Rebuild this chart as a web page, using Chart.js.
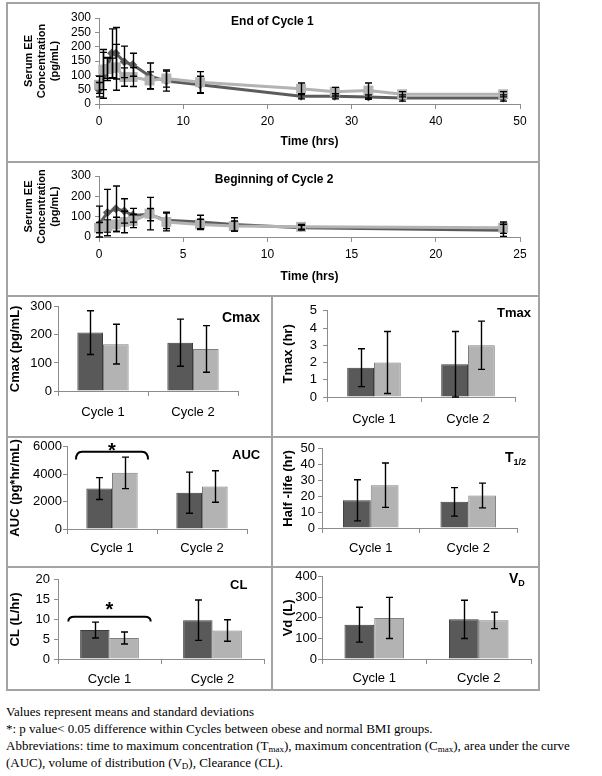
<!DOCTYPE html>
<html><head><meta charset="utf-8">
<script src="https://cdn.jsdelivr.net/npm/chart.js@4.4.1/dist/chart.umd.min.js"></script>
<style>
html,body{margin:0;padding:0;background:#fff;}
body{width:602px;height:776px;position:relative;overflow:hidden;font-family:"Liberation Sans",Arial,sans-serif;}
canvas{position:absolute;}
.ln{position:absolute;background:#a3a3a3;}
.lab{position:absolute;font-weight:bold;font-size:13px;line-height:16px;white-space:nowrap;color:#000;}
.lab sub{font-size:9px;vertical-align:-3px;line-height:0;}
.note{position:absolute;left:6px;top:703px;width:596px;font-family:"Liberation Serif","Times New Roman",serif;font-size:13px;line-height:17px;color:#000;}
.note sub{font-size:9px;vertical-align:-2px;line-height:0;}
</style></head>
<body>
<div class="ln" style="left:6px;top:2px;width:534px;height:2px"></div>
<div class="ln" style="left:6px;top:161px;width:534px;height:2px"></div>
<div class="ln" style="left:6px;top:295px;width:534px;height:2px"></div>
<div class="ln" style="left:6px;top:436px;width:534px;height:2px"></div>
<div class="ln" style="left:6px;top:566px;width:534px;height:2px"></div>
<div class="ln" style="left:6px;top:689px;width:534px;height:2px"></div>
<div class="ln" style="left:6px;top:2px;width:2px;height:689px"></div>
<div class="ln" style="left:538px;top:2px;width:2px;height:689px"></div>
<div class="ln" style="left:271px;top:295px;width:2px;height:396px"></div>

<canvas id="c1" width="530" height="157" style="left:8px;top:4px"></canvas>
<canvas id="c2" width="530" height="132" style="left:8px;top:163px"></canvas>
<canvas id="cmax" width="263" height="139" style="left:8px;top:297px"></canvas>
<canvas id="tmax" width="265" height="139" style="left:273px;top:297px"></canvas>
<canvas id="auc" width="263" height="128" style="left:8px;top:438px"></canvas>
<canvas id="thalf" width="265" height="128" style="left:273px;top:438px"></canvas>
<canvas id="cl" width="263" height="121" style="left:8px;top:568px"></canvas>
<canvas id="vd" width="265" height="121" style="left:273px;top:568px"></canvas>

<div class="lab" style="left:222px;top:309px;font-size:14px">Cmax</div>
<div class="lab" style="left:497px;top:305px">Tmax</div>
<div class="lab" style="left:232px;top:447px">AUC</div>
<div class="lab" style="left:505px;top:449px;font-size:14px">T<sub>1/2</sub></div>
<div class="lab" style="left:230px;top:577px">CL</div>
<div class="lab" style="left:509px;top:570px;font-size:14px">V<sub>D</sub></div>

<div class="note">Values represent means and standard deviations<br>*: p value&lt; 0.05 difference within Cycles between obese and normal BMI groups.<br>Abbreviations: time to maximum concentration (T<sub>max</sub>), maximum concentration (C<sub>max</sub>), area under the curve (AUC), volume of distribution (V<sub>D</sub>), Clearance (CL).</div>

<script>
// ---------- data ----------
const times1 = [0, 0.5, 1, 1.5, 2, 3, 4, 6, 8, 12, 24, 28, 32, 36, 48];
const dark1 = [50, 100, 125, 177, 177, 147, 137, 98, 80, 67, 27, 27, 24, 21, 21];
const darkSd1 = [25, 80, 35, 85, 90, 55, 40, 45, 35, 30, 9, 9, 8, 11, 11];
const light1 = [67, 120, 122, 125, 128, 94, 94, 82, 89, 76, 53, 43, 47, 34, 34];
const lightSd1 = [30, 70, 40, 35, 80, 32, 33, 30, 30, 37, 20, 15, 26, 9, 9];

const times2 = [0, 0.5, 1, 1.5, 2, 3, 4, 6, 8, 12, 24];
const dark2 = [62, 120, 139, 128, 107, 110, 82, 74, 62, 46, 33];
const darkSd2 = [90, 114, 112, 60, 34, 30, 40, 33, 33, 12, 30];
const light2 = [46, 54, 62, 74, 79, 115, 74, 62, 54, 50, 46];
const lightSd2 = [25, 30, 35, 53, 33, 80, 44, 25, 25, 12, 28];

const cycles = ['Cycle 1', 'Cycle 2'];
const cmaxDark = [208, 172], cmaxDarkSd = [78, 84];
const cmaxLight = [167, 150], cmaxLightSd = [71, 83];
const tmaxDark = [1.7, 1.9], tmaxDarkSd = [1.1, 1.9];
const tmaxLight = [2.0, 3.0], tmaxLightSd = [1.8, 1.4];
const aucDark = [2950, 2650], aucDarkSd = [800, 1500];
const aucLight = [4100, 3100], aucLightSd = [1150, 1150];
const thalfDark = [17.5, 16.5], thalfDarkSd = [13, 9];
const thalfLight = [27, 20.5], thalfLightSd = [14, 7.8];
const clDark = [7.3, 9.8], clDarkSd = [2.0, 5.1];
const clLight = [5.3, 7.2], clLightSd = [1.5, 2.7];
const vdDark = [167, 193], vdDarkSd = [85, 93];
const vdLight = [200, 188], vdLightSd = [100, 40];

// significance brackets (category index, bracket level, end level, star level) in data units
const aucSig = [0, 5640, 5070, 6000];
const clSig = [0, 10.7, 9.5, 13.6];

// ---------- plugins ----------
const AX = '#8c8c8c';
Chart.defaults.font.family = '"Liberation Sans", Arial, sans-serif';
Chart.defaults.color = '#000';
const plain = v => String(v);

const errorBars = {
  id: 'errorBars',
  afterDatasetsDraw(chart) {
    const ctx = chart.ctx, ys = chart.scales.y;
    ctx.save();
    ctx.strokeStyle = '#000';
    ctx.lineWidth = 1.4;
    chart.data.datasets.forEach((ds, i) => {
      if (!ds.sd) return;
      const meta = chart.getDatasetMeta(i);
      meta.data.forEach((el, j) => {
        const raw = ds.data[j];
        const v = typeof raw === 'object' ? raw.y : raw;
        const x = Math.round(el.x) + 0.5;
        const t = ys.getPixelForValue(v + ds.sd[j]);
        const b = ys.getPixelForValue(Math.max(0, v - ds.sd[j]));
        const c = 3.5;
        ctx.beginPath();
        ctx.moveTo(x, t); ctx.lineTo(x, b);
        ctx.moveTo(x - c, t); ctx.lineTo(x + c, t);
        ctx.moveTo(x - c, b); ctx.lineTo(x + c, b);
        ctx.stroke();
      });
    });
    ctx.restore();
  }
};

const sigBracket = {
  id: 'sigBracket',
  afterDatasetsDraw(chart, args, o) {
    if (!o || !o.sig) return;
    const [cat, level, end, star] = o.sig;
    const xs = chart.scales.x, ys = chart.scales.y, ctx = chart.ctx;
    const cx = xs.getPixelForValue(cat);
    const half = (xs.getPixelForValue(1) - xs.getPixelForValue(0)) * 0.40;
    const y = ys.getPixelForValue(level), yb = ys.getPixelForValue(end);
    const x1 = cx - half, x2 = cx + half, r = 6;
    ctx.save();
    ctx.strokeStyle = '#000'; ctx.lineWidth = 2;
    ctx.beginPath();
    ctx.moveTo(x1, yb);
    ctx.quadraticCurveTo(x1, y, x1 + r, y);
    ctx.lineTo(x2 - r, y);
    ctx.quadraticCurveTo(x2, y, x2, yb);
    ctx.stroke();
    ctx.fillStyle = '#000';
    ctx.font = 'bold 20px "Liberation Sans", Arial, sans-serif';
    ctx.textAlign = 'center'; ctx.textBaseline = 'middle';
    ctx.fillText('*', cx, ys.getPixelForValue(star) + 5);
    ctx.restore();
  }
};

Chart.register(errorBars, sigBracket);

// ---------- line charts ----------
function lineChart(id, times, dark, darkSd, light, lightSd, g) {
  return new Chart(document.getElementById(id), {
    type: 'line',
    data: {
      datasets: [
        { data: times.map((t, i) => ({ x: t, y: dark[i] })), sd: darkSd, borderColor: '#5c5c5c', backgroundColor: '#5c5c5c',
          borderWidth: 3, pointStyle: 'rectRot', pointRadius: 4.5, pointBorderWidth: 0, order: 2, clip: false },
        { data: times.map((t, i) => ({ x: t, y: light[i] })), sd: lightSd, borderColor: '#b3b3b3', backgroundColor: '#b3b3b3',
          borderWidth: 3, pointStyle: 'rect', pointRadius: 7, pointBorderWidth: 0, order: 1, clip: false }
      ]
    },
    options: {
      responsive: false, animation: false, devicePixelRatio: 1,
      layout: { padding: { top: g.padTop, right: g.padRight, left: 0, bottom: 0 } },
      plugins: {
        legend: { display: false }, tooltip: { enabled: false },
        title: { display: false }
      },
      scales: {
        x: {
          type: 'linear', min: 0, max: g.xMax,
          ticks: { stepSize: g.xStep, autoSkip: false, maxRotation: 0, padding: 5, font: { size: 12 }, color: '#000', callback: plain },
          grid: { drawOnChartArea: false, tickLength: 5, color: AX },
          border: { color: AX },
          title: { display: true, text: 'Time (hrs)', font: { size: 12, weight: 'bold' }, padding: { top: 0, bottom: g.titlePad } },
          afterFit(s) { s.height = g.xH; }
        },
        y: {
          min: 0, max: 300,
          ticks: { stepSize: g.yStep, autoSkip: false, padding: 4, font: { size: 12 }, color: '#000', callback: plain },
          grid: { drawOnChartArea: false, tickLength: 4, color: AX },
          border: { color: AX },
          title: { display: true, text: ['Serum EE', 'Concentration', '(pg/mL)'], font: { size: 11, weight: 'bold', lineHeight: 1.2 }, padding: { top: 14.4, bottom: 0 } },
          afterFit(s) { s.width = g.yW; }
        }
      }
    },
    plugins: [{
      id: 'panelTitle',
      afterDraw(chart) {
        const ctx = chart.ctx, xs = chart.scales.x;
        ctx.save();
        ctx.font = 'bold 12px "Liberation Sans", Arial, sans-serif';
        ctx.fillStyle = '#000'; ctx.textAlign = 'center'; ctx.textBaseline = 'middle';
        ctx.fillText(g.title, xs.getPixelForValue(g.titleAt), g.titleY);
        ctx.restore();
      }
    }]
  });
}

lineChart('c1', times1, dark1, darkSd1, light1, lightSd1,
  { padTop: 14, padRight: 18, xH: 57, yW: 91, titlePad: 11.8, xMax: 50, xStep: 10, yStep: 50, title: 'End of Cycle 1', titleAt: 20.6, titleY: 18 });
lineChart('c2', times2, dark2, darkSd2, light2, lightSd2,
  { padTop: 13, padRight: 18, xH: 58, yW: 91, titlePad: 10.8, xMax: 25, xStep: 5, yStep: 100, title: 'Beginning of Cycle 2', titleAt: 10.4, titleY: 17 });

// ---------- bar charts ----------
function barChart(id, dark, darkSd, light, lightSd, g) {
  return new Chart(document.getElementById(id), {
    type: 'bar',
    data: {
      labels: cycles,
      datasets: [
        { data: dark, sd: darkSd, backgroundColor: '#595959', borderColor: '#3c3c3c', borderWidth: 1 },
        { data: light, sd: lightSd, backgroundColor: '#b3b3b3', borderColor: '#808080', borderWidth: 1 }
      ]
    },
    options: {
      responsive: false, animation: false, devicePixelRatio: 1,
      categoryPercentage: 0.57, barPercentage: 1.0,
      layout: { padding: { top: g.padTop, right: g.padRight, left: 0, bottom: 0 } },
      plugins: { legend: { display: false }, tooltip: { enabled: false }, sigBracket: { sig: g.sig } },
      scales: {
        x: {
          ticks: { padding: g.catPad, autoSkip: false, maxRotation: 0, font: { size: 13 }, color: '#000' },
          grid: { offset: true, drawOnChartArea: false, tickLength: 5, color: AX },
          border: { color: AX },
          afterFit(s) { s.height = g.xH; }
        },
        y: {
          min: 0, max: g.yMax,
          ticks: { stepSize: g.yStep, autoSkip: false, padding: g.tickPad, font: { size: 13 }, color: '#000', callback: plain },
          grid: { drawOnChartArea: false, tickLength: 4, color: AX },
          border: { color: AX },
          title: { display: true, text: g.yTitle, font: { size: 13, weight: 'bold', lineHeight: 1.2 }, padding: { top: g.titleTop, bottom: 0 } },
          afterFit(s) { s.width = g.yW; }
        }
      }
    }
  });
}

barChart('cmax', cmaxDark, cmaxDarkSd, cmaxLight, cmaxLightSd,
  { padTop: 8, padRight: 33, xH: 45, yW: 50, yMax: 300, yStep: 100, yTitle: 'Cmax (pg/mL)', titleTop: 0, tickPad: 2, catPad: 9 });
barChart('tmax', tmaxDark, tmaxDarkSd, tmaxLight, tmaxLightSd,
  { padTop: 10, padRight: 23, xH: 39, yW: 54, yMax: 5, yStep: 1, yTitle: 'Tmax (hr)', titleTop: 8, tickPad: 6, catPad: 10 });
barChart('auc', aucDark, aucDarkSd, aucLight, aucLightSd,
  { padTop: 7, padRight: 24, xH: 37, yW: 59, yMax: 6000, yStep: 2000, yTitle: 'AUC (pg*hr/mL)', titleTop: 0, tickPad: 1, catPad: 7, sig: aucSig });
barChart('thalf', thalfDark, thalfDarkSd, thalfLight, thalfLightSd,
  { padTop: 7, padRight: 21, xH: 38, yW: 49, yMax: 50, yStep: 10, yTitle: 'Half -life (hr)', titleTop: 8, tickPad: 3, catPad: 8 });
barChart('cl', clDark, clDarkSd, clLight, clLightSd,
  { padTop: 5, padRight: 7, xH: 30, yW: 50, yMax: 20, yStep: 5, yTitle: 'CL (L/hr)', titleTop: 0, tickPad: 4, catPad: 8, sig: clSig });
barChart('vd', vdDark, vdDarkSd, vdLight, vdLightSd,
  { padTop: 5, padRight: 7, xH: 30, yW: 49, yMax: 400, yStep: 100, yTitle: 'Vd (L)', titleTop: 8, tickPad: 1, catPad: 7 });
</script>
</body></html>
